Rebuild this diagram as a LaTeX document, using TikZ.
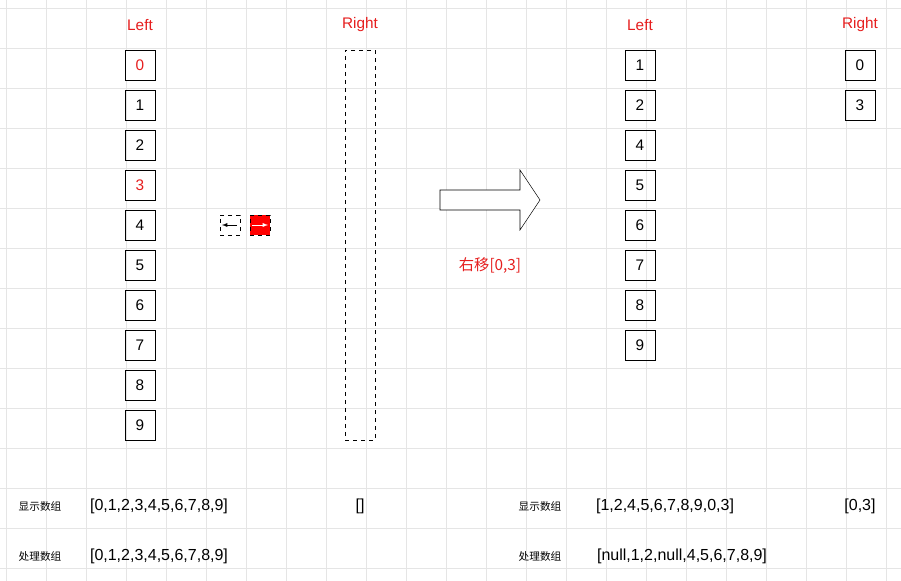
\documentclass[tikz,border=0pt]{standalone}
\usepackage{fontspec}
\setmainfont{Liberation Sans}
\newfontfamily\cjk{Noto Sans CJK SC}
\definecolor{myred}{RGB}{230,30,30}
\begin{document}
\begin{tikzpicture}[x=0.75pt,y=-0.75pt,
  cell/.style={draw,minimum size=22.5pt,inner sep=0pt,font=\fontsize{11.5}{13}\selectfont},
  lbl/.style={text=myred,font=\fontsize{11.5}{13}\selectfont},
  txt/.style={font=\fontsize{12}{14}\selectfont},
  small/.style={font=\cjk\fontsize{8}{9}\selectfont}]
\useasboundingbox (0,0) rectangle (901,581);
\fill[white] (0,0) rectangle (901,581);
\foreach \x in {6,46,...,900} \draw[black!10,line width=0.5pt] (\x,0) -- (\x,581);
\foreach \y in {8,48,...,580} \draw[black!10,line width=0.5pt] (0,\y) -- (901,\y);
\node[lbl] (lL) at (140,25) {Left};
\node[lbl] (lR) at (360,25) {Right};
\foreach \v [count=\i from 0] in {0,...,9} \node[cell] (a\i) at (140,65+40*\i) {\v};
\node[cell,text=myred,fill=white] at (a0) {0};
\node[cell,text=myred,fill=white] at (a3) {3};
\node[draw,dashed,minimum width=22.5pt,minimum height=292.5pt,inner sep=0pt] (rr) at (360,245) {};
\node[draw,dashed,minimum size=15pt,inner sep=0pt] (sl) at (230,225) {};
\draw[-latex] (237,225) -- (222,225);
\node[draw,dashed,fill=red,minimum size=15pt,inner sep=0pt] (sr) at (260,225) {};
\draw[-latex,white] (252,225) -- (268,225);
\draw[fill=white] (440,190) -- (520,190) -- (520,170) -- (540,200) -- (520,230) -- (520,210) -- (440,210) -- cycle;
\node[lbl,font=\cjk\fontsize{11.5}{13}\selectfont] (mv) at (490,266) {右移[0,3]};
\node[lbl] (rL) at (640,25) {Left};
\node[lbl] (rRt) at (860,25) {Right};
\foreach \v [count=\i from 0] in {1,2,4,5,6,7,8,9} \node[cell] (b\i) at (640,65+40*\i) {\v};
\node[cell] (c0) at (860,65) {0};
\node[cell] (c1) at (860,105) {3};
\node[small] (t1) at (40,506) {显示数组};
\node[small] (t2) at (40,556) {处理数组};
\node[txt] (t3) at (159,506) {[0,1,2,3,4,5,6,7,8,9]};
\node[txt] (t4) at (159,556) {[0,1,2,3,4,5,6,7,8,9]};
\node[txt] (t5) at (360,506) {[]};
\node[small] (t6) at (540,506) {显示数组};
\node[small] (t7) at (540,556) {处理数组};
\node[txt] (t8) at (665,506) {[1,2,4,5,6,7,8,9,0,3]};
\node[txt] (t9) at (860,506) {[0,3]};
\node[txt] (t10) at (682,556) {[null,1,2,null,4,5,6,7,8,9]};
\end{tikzpicture}
\end{document}
